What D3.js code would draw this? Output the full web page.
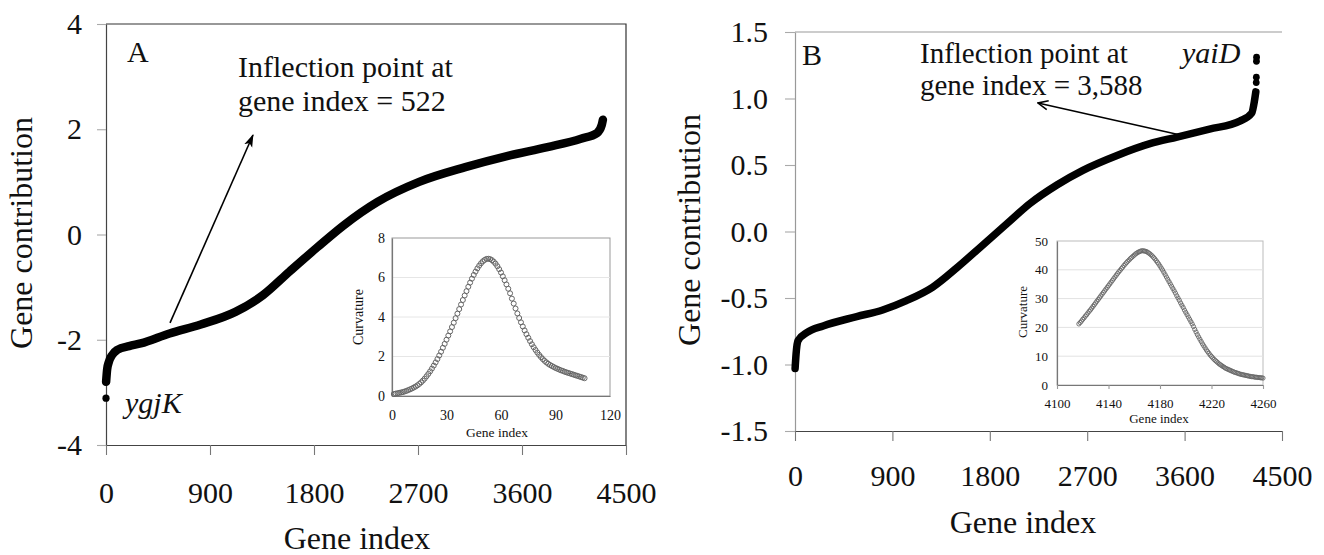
<!DOCTYPE html>
<html>
<head>
<meta charset="utf-8">
<script src="https://cdn.jsdelivr.net/npm/d3@7"></script>
<style>
  html, body { margin: 0; padding: 0; background: #fff; }
  svg { display: block; }
  svg text { font-family: "Liberation Serif", "Times New Roman", serif; }
</style>
</head>
<body>
<svg id="chart" width="1324" height="555"></svg>
<script>
// ---------- Panel A: sorted gene contributions ----------
const geneA    = [1, 10, 25, 50, 100, 200, 300, 550, 820, 1120, 1360, 1590, 1830, 2060, 2350, 2710, 3110, 3470, 3820, 4110, 4250, 4290, 4300];
const contribA = [-2.80, -2.56, -2.42, -2.30, -2.19, -2.12, -2.07, -1.88, -1.71, -1.47, -1.15, -0.70, -0.24, 0.18, 0.62, 1.00, 1.28, 1.49, 1.66, 1.82, 1.93, 2.08, 2.18];
const outlierGeneA  = [0];
const outlierValueA = [-3.11];
const outlierNameA  = "ygjK";

// ---------- Panel B: sorted gene contributions ----------
const geneB    = [1, 10, 28, 110, 260, 570, 810, 1030, 1270, 1500, 1710, 1960, 2170, 2420, 2660, 2970, 3280, 3530, 3830, 4110, 4220, 4245, 4258];
const contribB = [-1.03, -0.92, -0.82, -0.76, -0.71, -0.64, -0.59, -0.52, -0.42, -0.27, -0.12, 0.06, 0.21, 0.35, 0.46, 0.57, 0.66, 0.71, 0.77, 0.83, 0.89, 0.98, 1.05];
const outlierGeneB  = [4262, 4263, 4264, 4265];
const outlierValueB = [1.12, 1.16, 1.28, 1.31];
const outlierNameB  = "yaiD";

// ---------- Insets: curvature around the inflection ----------
const curvAStart = 1;
const curvA = [
  0.10,0.12,0.14,0.16,0.18,0.20,0.23,0.26,0.30,0.34,
  0.38,0.43,0.48,0.54,0.61,0.69,0.78,0.88,1.00,1.12,
  1.25,1.39,1.54,1.70,1.87,2.05,2.24,2.44,2.64,2.85,
  3.06,3.27,3.49,3.71,3.94,4.17,4.40,4.63,4.86,5.09,
  5.31,5.53,5.74,5.94,6.13,6.30,6.46,6.60,6.72,6.82,
  6.89,6.94,6.95,6.93,6.88,6.80,6.70,6.57,6.42,6.25,
  6.06,5.86,5.65,5.43,5.20,4.93,4.68,4.43,4.18,3.95,
  3.73,3.52,3.32,3.13,2.95,2.78,2.62,2.47,2.33,2.20,
  2.08,1.97,1.87,1.78,1.70,1.63,1.57,1.52,1.47,1.42,
  1.38,1.34,1.30,1.27,1.23,1.20,1.17,1.14,1.11,1.08,
  1.05,1.02,0.99,0.96,0.93,0.90
];
const curvBStart = 4117;
const curvB = [
  21.2,21.7,22.2,22.8,23.3,23.9,24.4,25.0,25.6,26.1,
  26.7,27.3,27.9,28.5,29.1,29.7,30.3,30.9,31.5,32.1,
  32.7,33.3,33.9,34.5,35.1,35.7,36.3,36.9,37.5,38.1,
  38.7,39.3,39.8,40.4,40.9,41.5,42.0,42.5,43.0,43.4,
  43.9,44.3,44.7,45.1,45.5,45.8,46.1,46.3,46.5,46.6,
  46.6,46.5,46.4,46.2,45.9,45.6,45.2,44.8,44.3,43.8,
  43.2,42.6,42.0,41.3,40.6,39.9,39.1,38.3,37.5,36.7,
  35.9,35.1,34.3,33.5,32.7,31.9,31.0,30.2,29.4,28.5,
  27.7,26.9,26.0,25.2,24.4,23.6,22.8,22.0,21.2,20.3,
  19.3,18.4,17.5,16.7,15.9,15.1,14.3,13.6,12.9,12.2,
  11.6,11.0,10.4,9.9,9.4,8.9,8.5,8.1,7.7,7.3,
  7.0,6.7,6.4,6.1,5.8,5.6,5.4,5.2,5.0,4.8,
  4.6,4.4,4.3,4.1,4.0,3.8,3.7,3.6,3.5,3.4,
  3.3,3.2,3.1,3.0,2.9,2.9,2.8,2.7,2.7,2.6,
  2.6,2.5,2.5,2.4
];

// ---------- Tick values ----------
const xTicksMain   = [0, 900, 1800, 2700, 3600, 4500];
const yTicksA      = [-4, -2, 0, 2, 4];
const yTicksB      = [-1.5, -1.0, -0.5, 0.0, 0.5, 1.0, 1.5];
const xTicksInsetA = [0, 30, 60, 90, 120];
const yTicksInsetA = [0, 2, 4, 6, 8];
const xTicksInsetB = [4100, 4140, 4180, 4220, 4260];
const yTicksInsetB = [0, 10, 20, 30, 40, 50];

// ---------- Annotation text ----------
const noteA = ["Inflection point at", "gene index = 522"];
const noteB = ["Inflection point at", "gene index = 3,588"];

const svg = d3.select("#chart");

// arrow markers
const defs = svg.append("defs");
defs.append("marker").attr("id", "headA")
  .attr("viewBox", "0 -5 12 10").attr("refX", 11).attr("refY", 0)
  .attr("markerUnits", "userSpaceOnUse").attr("markerWidth", 13).attr("markerHeight", 11)
  .attr("orient", "auto")
  .append("path").attr("d", "M0,-4L12,0L0,4L3,0Z").attr("fill", "#000");
defs.append("marker").attr("id", "headB")
  .attr("viewBox", "0 -6 12 12").attr("refX", 11).attr("refY", 0)
  .attr("markerUnits", "userSpaceOnUse").attr("markerWidth", 12).attr("markerHeight", 12)
  .attr("orient", "auto")
  .append("path").attr("d", "M1,-4.5L11,0L1,4.5").attr("fill", "none")
  .attr("stroke", "#000").attr("stroke-width", 1.6);

function styleAxis(g, domainColor, tickColor, fontSize) {
  g.attr("font-family", null).attr("font-size", null);
  g.select(".domain").attr("stroke", domainColor).attr("stroke-width", 1.2);
  g.selectAll(".tick line").attr("stroke", tickColor).attr("stroke-width", 1.1);
  g.selectAll(".tick text").attr("fill", "#111").style("font-size", fontSize + "px");
}

const line = (x, y) => d3.line().x(d => x(d[0])).y(d => y(d[1])).curve(d3.curveMonotoneX);

// =============== Panel A ===============
const xA = d3.scaleLinear().domain([0, 4500]).range([106, 626]);
const yA = d3.scaleLinear().domain([-4, 4]).range([445, 24]);

// frame (top and right)
svg.append("path")
  .attr("d", `M${xA(0)},${yA(4)}H${xA(4500)}V${yA(-4)}`)
  .attr("fill", "none").attr("stroke", "#333").attr("stroke-width", 1.2);

svg.append("g").attr("transform", `translate(${xA(0)},0)`)
  .call(d3.axisLeft(yA).tickValues(yTicksA).tickSizeInner(9).tickSizeOuter(0).tickPadding(15).tickFormat(d => String(d)))
  .call(g => styleAxis(g, "#444", "#aaa", 30));

svg.append("g").attr("transform", `translate(0,${yA(-4)})`)
  .call(d3.axisBottom(xA).tickValues(xTicksMain).tickSizeInner(10).tickSizeOuter(0).tickPadding(27).tickFormat(d => String(d)))
  .call(g => styleAxis(g, "#444", "#777", 30));

svg.append("text").attr("x", 357).attr("y", 549).attr("text-anchor", "middle")
  .attr("font-size", 32).attr("fill", "#111").text("Gene index");
svg.append("text").attr("transform", "translate(32,233) rotate(-90)").attr("text-anchor", "middle")
  .attr("font-size", 32).attr("fill", "#111").text("Gene contribution");

svg.append("path")
  .datum(geneA.map((g, i) => [g, contribA[i]]))
  .attr("d", line(xA, yA))
  .attr("fill", "none").attr("stroke", "#000").attr("stroke-width", 8.5)
  .attr("stroke-linecap", "round").attr("stroke-linejoin", "round");

svg.append("g").selectAll("circle")
  .data(outlierGeneA.map((g, i) => [g, outlierValueA[i]]))
  .join("circle")
  .attr("cx", d => xA(d[0])).attr("cy", d => yA(d[1])).attr("r", 3.6).attr("fill", "#000");

svg.append("text").attr("x", 125).attr("y", 413).attr("font-size", 30)
  .attr("font-style", "italic").attr("fill", "#111").text(outlierNameA);

svg.append("text").attr("x", 127).attr("y", 62).attr("font-size", 30).attr("fill", "#111").text("A");
svg.append("g").selectAll("text").data(noteA).join("text")
  .attr("x", 238).attr("y", (d, i) => 77 + i * 34)
  .attr("font-size", 30).attr("fill", "#111").text(d => d);

svg.append("line")
  .attr("x1", xA(554)).attr("y1", yA(-1.68))
  .attr("x2", xA(1272)).attr("y2", yA(1.89))
  .attr("stroke", "#000").attr("stroke-width", 1.6).attr("marker-end", "url(#headA)");

// ---- Inset A ----
const xIA = d3.scaleLinear().domain([0, 120]).range([392, 610]);
const yIA = d3.scaleLinear().domain([0, 8]).range([396, 238]);

svg.append("rect").attr("x", xIA(0)).attr("y", yIA(8))
  .attr("width", xIA(120) - xIA(0)).attr("height", yIA(0) - yIA(8))
  .attr("fill", "#fff").attr("stroke", "#999").attr("stroke-width", 1);
svg.append("g").selectAll("line").data(yTicksInsetA.slice(1, -1)).join("line")
  .attr("x1", xIA(0)).attr("x2", xIA(120)).attr("y1", d => yIA(d)).attr("y2", d => yIA(d))
  .attr("stroke", "#e6e6e6").attr("stroke-width", 1);

svg.append("g").attr("transform", `translate(${xIA(0)},0)`)
  .call(d3.axisLeft(yIA).tickValues(yTicksInsetA).tickSize(0).tickPadding(7))
  .call(g => styleAxis(g, "#777", "#999", 14));
svg.append("g").attr("transform", `translate(0,${yIA(0)})`)
  .call(d3.axisBottom(xIA).tickValues(xTicksInsetA).tickSize(0).tickPadding(14))
  .call(g => styleAxis(g, "#777", "#999", 14));

svg.append("text").attr("x", 497).attr("y", 437).attr("text-anchor", "middle")
  .attr("font-size", 13.5).attr("fill", "#111").text("Gene index");
svg.append("text").attr("transform", "translate(363,317) rotate(-90)").attr("text-anchor", "middle")
  .attr("font-size", 14).attr("fill", "#111").text("Curvature");

svg.append("g").selectAll("circle")
  .data(curvA.map((v, i) => [curvAStart + i, v]))
  .join("circle")
  .attr("cx", d => xIA(d[0])).attr("cy", d => yIA(d[1])).attr("r", 2.5)
  .attr("fill", "none").attr("stroke", "#666").attr("stroke-width", 1);

// =============== Panel B ===============
const xB = d3.scaleLinear().domain([0, 4500]).range([795, 1282]);
const yB = d3.scaleLinear().domain([-1.5, 1.5]).range([431, 32]);

svg.append("line").attr("x1", xB(0)).attr("x2", xB(4500)).attr("y1", yB(1.5)).attr("y2", yB(1.5))
  .attr("stroke", "#999").attr("stroke-width", 1.2);

svg.append("g").attr("transform", `translate(${xB(0)},0)`)
  .call(d3.axisLeft(yB).tickValues(yTicksB).tickSizeInner(10).tickSizeOuter(0).tickPadding(17).tickFormat(d => d.toFixed(1)))
  .call(g => styleAxis(g, "#999", "#aaa", 30));

svg.append("g").attr("transform", `translate(0,${yB(-1.5)})`)
  .call(d3.axisBottom(xB).tickValues(xTicksMain).tickSizeInner(10).tickSizeOuter(0).tickPadding(24).tickFormat(d => String(d)))
  .call(g => styleAxis(g, "#444", "#777", 30));

svg.append("text").attr("x", 1023).attr("y", 533).attr("text-anchor", "middle")
  .attr("font-size", 32).attr("fill", "#111").text("Gene index");
svg.append("text").attr("transform", "translate(700,230) rotate(-90)").attr("text-anchor", "middle")
  .attr("font-size", 32).attr("fill", "#111").text("Gene contribution");

svg.append("path")
  .datum(geneB.map((g, i) => [g, contribB[i]]))
  .attr("d", line(xB, yB))
  .attr("fill", "none").attr("stroke", "#000").attr("stroke-width", 7.5)
  .attr("stroke-linecap", "round").attr("stroke-linejoin", "round");

svg.append("g").selectAll("circle")
  .data(outlierGeneB.map((g, i) => [g, outlierValueB[i]]))
  .join("circle")
  .attr("cx", d => xB(d[0])).attr("cy", d => yB(d[1])).attr("r", 3.4).attr("fill", "#000");

svg.append("text").attr("x", 1182).attr("y", 63).attr("font-size", 30)
  .attr("font-style", "italic").attr("fill", "#111").text(outlierNameB);

svg.append("text").attr("x", 802).attr("y", 65).attr("font-size", 30).attr("fill", "#111").text("B");
svg.append("g").selectAll("text").data(noteB).join("text")
  .attr("x", 920).attr("y", (d, i) => 63 + i * 32)
  .attr("font-size", 29).attr("fill", "#111").text(d => d);

svg.append("line")
  .attr("x1", xB(3540)).attr("y1", yB(0.73))
  .attr("x2", xB(2245)).attr("y2", yB(0.966))
  .attr("stroke", "#000").attr("stroke-width", 1.6).attr("marker-end", "url(#headB)");

// ---- Inset B ----
const xIB = d3.scaleLinear().domain([4100, 4260]).range([1057, 1263]);
const yIB = d3.scaleLinear().domain([0, 50]).range([385, 241]);

svg.append("rect").attr("x", xIB(4100)).attr("y", yIB(50))
  .attr("width", xIB(4260) - xIB(4100)).attr("height", yIB(0) - yIB(50))
  .attr("fill", "#fff").attr("stroke", "#bbb").attr("stroke-width", 1);
svg.append("g").selectAll("line").data(yTicksInsetB.slice(1, -1)).join("line")
  .attr("x1", xIB(4100)).attr("x2", xIB(4260)).attr("y1", d => yIB(d)).attr("y2", d => yIB(d))
  .attr("stroke", "#e2e2e2").attr("stroke-width", 1);

svg.append("g").attr("transform", `translate(${xIB(4100)},0)`)
  .call(d3.axisLeft(yIB).tickValues(yTicksInsetB).tickSize(0).tickPadding(9))
  .call(g => styleAxis(g, "#777", "#999", 13));
svg.append("g").attr("transform", `translate(0,${yIB(0)})`)
  .call(d3.axisBottom(xIB).tickValues(xTicksInsetB).tickSizeInner(4).tickSizeOuter(0).tickPadding(10).tickFormat(d => String(d)))
  .call(g => styleAxis(g, "#777", "#999", 13));

svg.append("text").attr("x", 1159).attr("y", 423).attr("text-anchor", "middle")
  .attr("font-size", 13).attr("fill", "#111").text("Gene index");
svg.append("text").attr("transform", "translate(1027,312) rotate(-90)").attr("text-anchor", "middle")
  .attr("font-size", 13).attr("fill", "#111").text("Curvature");

svg.append("g").selectAll("circle")
  .data(curvB.map((v, i) => [curvBStart + i, v]))
  .join("circle")
  .attr("cx", d => xIB(d[0])).attr("cy", d => yIB(d[1])).attr("r", 2.1)
  .attr("fill", "none").attr("stroke", "#666").attr("stroke-width", 0.9);
</script>
</body>
</html>
